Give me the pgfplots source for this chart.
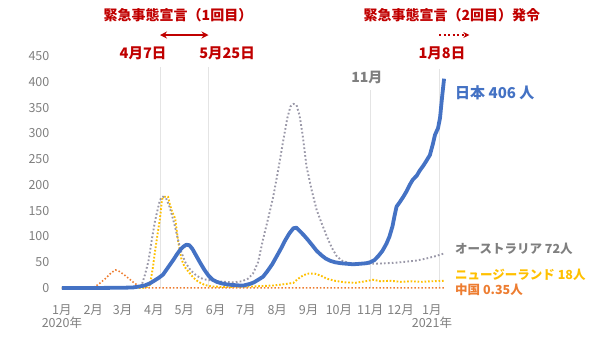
\documentclass[border=0pt]{standalone}
\usepackage{fontspec}
\setmainfont{Noto Sans CJK JP}
\usepackage{pgfplots}
\pgfplotsset{compat=1.18}
\usetikzlibrary{arrows.meta}
\definecolor{jpblue}{HTML}{4472C4}
\definecolor{augray}{HTML}{9A98A8}
\definecolor{nzyel}{HTML}{FFC000}
\definecolor{cnorg}{HTML}{ED7D31}
\definecolor{annred}{HTML}{C00000}
\definecolor{tickgray}{HTML}{7F7F7F}
\definecolor{vgrid}{HTML}{E4E4E4}
\begin{document}
\begin{tikzpicture}
\useasboundingbox (0,0) rectangle (600pt,340pt);
\begin{axis}[
  at={(58.9pt,52pt)}, anchor=south west,
  scale only axis, width=387.2pt, height=232pt,
  xmin=-3, xmax=380, ymin=0, ymax=450,
  clip=false,
  axis line style={draw=none},
  tick style={draw=none},
  ytick={0,50,...,450},
  xtick={0,31,60,91,121,152,182,213,244,274,305,335,366},
  xticklabels={{1月\\2020年},2月,3月,4月,5月,6月,7月,8月,9月,10月,11月,12月,{1月\\2021年}},
  xticklabel style={align=center, anchor=north, yshift=-13pt, text=tickgray, font=\fontsize{12.5}{13}\selectfont},
  yticklabel style={anchor=east, xshift=-6pt, text=tickgray, font=\fontsize{12.5}{14}\selectfont},
  /pgf/number format/assume math mode=true,
]
% vertical reference lines
\draw[vgrid, line width=0.8pt] (axis cs:97,0) -- (axis cs:97,428);
\draw[vgrid, line width=0.8pt] (axis cs:145,0) -- (axis cs:145,428);
\draw[vgrid, line width=0.8pt] (axis cs:305,0) -- (axis cs:305,384);
\draw[vgrid, line width=0.8pt] (axis cs:373,0) -- (axis cs:373,425);

% China
\addplot[cnorg, line width=1.6pt, dash pattern=on 1.5pt off 2pt] coordinates {
(0,0) (28,0) (33,3) (38,10) (44,20) (49,30) (53,35) (57,32) (62,25) (67,17) (72,9) (77,3) (81,0.5) (90,0.3) (150,0.3) (250,0.3) (378,0.35)
};
% New Zealand
\addplot[nzyel, line width=1.9pt, dash pattern=on 1.7pt off 1.8pt] coordinates {
(0,0) (80,0) (84,2) (87,6) (90,40) (92,70) (95,110) (97,135) (99,172) (101,177) (105,177) (107,160) (109,148) (112,135) (115,90) (118,58) (121,42) (125,32) (130,20) (135,12) (141,6) (148,3) (160,2) (190,3) (210,5) (222,8) (229,10) (233,17) (239,25) (244,28) (250,28) (256,24) (262,18) (270,14) (280,11) (290,10) (300,13) (308,16) (315,13) (325,14) (335,12) (345,13) (355,12) (365,13) (378,14)
};
% Australia
\addplot[augray, line width=1.9pt, dash pattern=on 1.7pt off 2.2pt] coordinates {
(0,0) (70,0) (76,2) (79,6) (82,25) (85.5,51) (89,95) (92,129) (95,155) (97,171) (100,177) (103,174) (106,160) (109,140) (112,118) (115,92) (118,70) (122,50) (127,35) (133,24) (140,17) (150,14) (160,12) (170,11) (178,13) (184,18) (189,28) (194,50) (199,95) (204,135) (209,177) (214,230) (219,287) (223,330) (226,352) (229,357) (232,355) (235,335) (238,298) (242,235) (247,190) (252,151) (257,125) (262,100) (267,78) (272,61) (277,53) (283,49) (290,47) (300,47) (310,47) (320,48) (330,49) (340,51) (350,53) (360,57) (370,62) (378,67)
};
% Japan
\addplot[jpblue, line width=3.8pt, line join=round] coordinates {
(0,0) (30,0) (60,0.5) (70,1) (77,3) (82,5) (87,9) (92,15) (96,20) (100,26) (105,40) (110,54) (114,66) (117,74) (120,80) (123,84) (126,83) (129,76) (133,62) (137,48) (141,35) (145,24) (149,16) (153,12) (158,9) (163,7) (168,6) (175,5) (180,5) (186,8) (190,11) (195,17) (199,22) (203,32) (208,46) (212,60) (216,74) (221,93) (225,106) (229,116) (232,117) (235,111) (239,103) (243,94) (248,82) (252,72) (257,63) (261,57) (265,53) (270,50) (276,48) (282,47) (288,46) (295,47) (301,48) (305,50) (309,54) (313,62) (317,72) (321,86) (324,100) (327,120) (329,140) (331,158) (334,166) (338,178) (341,188) (344,200) (347,210) (351,218) (354,228) (357,236) (360,245) (364,258) (367,280) (369,297) (372,310) (374,330) (376,370) (378,406)
};

% annotations
\node[text=annred, font=\fontsize{14}{16}\selectfont\bfseries] at (axis cs:114.8,529.5) {緊急事態宣言（1回目）};
\draw[annred, line width=2.2pt, {Stealth[length=7pt,width=7pt]}-{Stealth[length=7pt,width=7pt]}] (axis cs:97,490.7) -- (axis cs:145,490.7);
\node[text=annred, font=\fontsize{14.5}{16}\selectfont\bfseries] at (axis cs:80.2,455.8) {4月7日};
\node[text=annred, font=\fontsize{14.5}{16}\selectfont\bfseries] at (axis cs:163.3,455.8) {5月25日};
\node[text=annred, font=\fontsize{14}{16}\selectfont\bfseries] at (axis cs:385.8,529.5) {緊急事態宣言（2回目）発令};
\draw[annred, line width=2.2pt, dash pattern=on 2pt off 2.5pt, -{Stealth[length=6pt,width=6pt]}] (axis cs:373,490.7) -- (axis cs:403,490.7);
\node[text=annred, font=\fontsize{14.5}{16}\selectfont\bfseries] at (axis cs:375.9,455.8) {1月8日};
\node[text=tickgray, font=\fontsize{14}{16}\selectfont\bfseries] at (axis cs:301.7,409.2) {11月};
\node[anchor=west, inner sep=0pt, text=jpblue, font=\fontsize{15}{17}\selectfont\bfseries] at (axis cs:388.8,378.2) {日本 406 人};
\node[anchor=west, inner sep=0pt, text=tickgray, font=\fontsize{12.5}{14}\selectfont\bfseries] at (axis cs:388.8,75.6) {オーストラリア 72人};
\node[anchor=west, inner sep=0pt, text=nzyel, font=\fontsize{12.5}{14}\selectfont\bfseries] at (axis cs:388.8,25.2) {ニュージーランド 18人};
\node[anchor=west, inner sep=0pt, text=cnorg, font=\fontsize{12.5}{14}\selectfont\bfseries] at (axis cs:388.8,-3.9) {中国 0.35人};
\end{axis}
\end{tikzpicture}
\end{document}
